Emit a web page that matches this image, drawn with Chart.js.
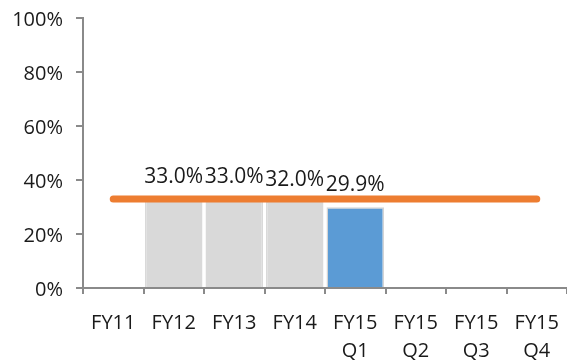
<!DOCTYPE html>
<html>
<head>
<meta charset="utf-8">
<script src="https://cdn.jsdelivr.net/npm/chart.js@4/dist/chart.umd.min.js"></script>
<style>
  html, body { margin: 0; padding: 0; background: #fff; }
  #wrap { width: 567px; height: 364px; }
</style>
</head>
<body>
<div id="wrap"><canvas id="c" width="567" height="364"></canvas></div>
<script>
// Categories on the x axis (multi-line labels for quarters)
const categories = [['FY11'], ['FY12'], ['FY13'], ['FY14'], ['FY15', 'Q1'], ['FY15', 'Q2'], ['FY15', 'Q3'], ['FY15', 'Q4']];
// Actual rates (%) per period; empty periods have no bar
const actualValues = [null, 33.0, 33.0, 32.0, 29.9, null, null, null];
// Target rate (%) drawn as a flat line across all periods
const targetValues = [33, 33, 33, 33, 33, 33, 33, 33];
// Y axis tick values
const yTicks = [0, 20, 40, 60, 80, 100];

const FONT = "'Open Sans', 'Noto Sans', sans-serif";
const AXIS = '#8a8a8a';

const barColors = actualValues.map((v, i) => i === 4 ? '#5B9BD5' : '#D9D9D9');
const barBorders = actualValues.map((v, i) => i === 4 ? '#D4D4D4' : '#D9D9D9');

// Writes the value above each bar
const valueLabels = {
  id: 'valueLabels',
  afterDatasetsDraw(chart) {
    const meta = chart.getDatasetMeta(1);
    const ctx = chart.ctx;
    ctx.save();
    ctx.font = '21px ' + FONT;
    ctx.fillStyle = '#1a1a1a';
    ctx.textAlign = 'center';
    ctx.textBaseline = 'middle';
    meta.data.forEach((bar, i) => {
      const v = actualValues[i];
      if (v === null) return;
      ctx.fillText(v.toFixed(1) + '%', bar.x, bar.y - 22);
    });
    ctx.restore();
  }
};

new Chart(document.getElementById('c'), {
  data: {
    labels: categories,
    datasets: [
      {
        type: 'line',
        data: targetValues,
        borderColor: '#ED7D31',
        borderWidth: 7,
        borderCapStyle: 'round',
        pointRadius: 0,
        order: 0
      },
      {
        type: 'bar',
        data: actualValues,
        backgroundColor: barColors,
        borderColor: barBorders,
        borderWidth: 1.5,
        barPercentage: 0.95,
        categoryPercentage: 1,
        order: 1
      }
    ]
  },
  options: {
    responsive: false,
    animation: false,
    layout: { padding: { top: 18, right: 0, left: 0, bottom: 0 } },
    plugins: { legend: { display: false }, tooltip: { enabled: false } },
    scales: {
      x: {
        offset: true,
        grid: { drawOnChartArea: false, color: AXIS, lineWidth: 2, tickLength: 6, offset: true },
        border: { color: AXIS, width: 2 },
        ticks: { color: '#1a1a1a', font: { family: FONT, size: 20, lineHeight: 1.4 }, padding: 15, maxRotation: 0, autoSkip: false },
        afterFit(s) { s.height = 76; s.paddingLeft = 0; s.paddingRight = 0; }
      },
      y: {
        min: 0,
        max: 100,
        afterBuildTicks(s) { s.ticks = yTicks.map(v => ({ value: v })); },
        grid: { drawOnChartArea: false, color: AXIS, lineWidth: 2, tickLength: 7 },
        border: { color: AXIS, width: 2 },
        ticks: { color: '#1a1a1a', font: { family: FONT, size: 20 }, padding: 13, labelOffset: 2, callback: v => v + '%' },
        afterFit(s) { s.width = 83; s.paddingTop = 0; s.paddingBottom = 0; }
      }
    }
  },
  plugins: [valueLabels]
});
</script>
</body>
</html>
